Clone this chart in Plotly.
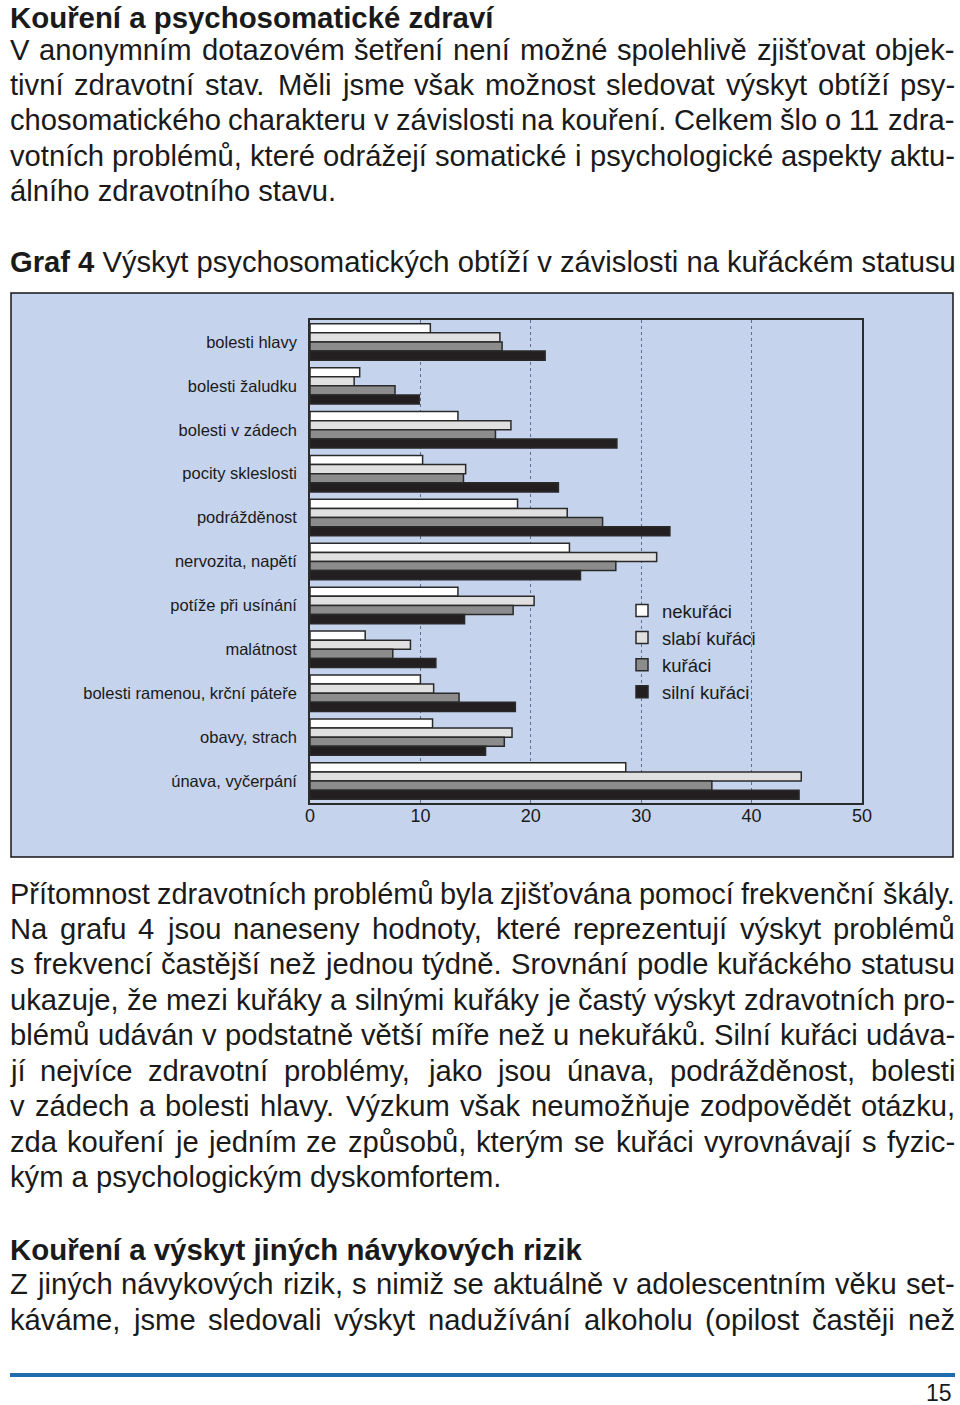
import plotly.graph_objects as go

# ---------------- data ----------------
categories = ["bolesti hlavy", "bolesti žaludku", "bolesti v zádech", "pocity skleslosti",
              "podrážděnost", "nervozita, napětí", "potíže při usínání", "malátnost",
              "bolesti ramenou, krční páteře", "obavy, strach", "únava, vyčerpání"]
nekuraci = [10.9, 4.5, 13.4, 10.2, 18.8, 23.5, 13.4, 5.0, 10.0, 11.1, 28.6]
slabi_kuraci = [17.2, 4.0, 18.2, 14.1, 23.3, 31.4, 20.3, 9.1, 11.2, 18.3, 44.5]
kuraci = [17.4, 7.7, 16.8, 13.9, 26.5, 27.7, 18.4, 7.5, 13.5, 17.6, 36.4]
silni_kuraci = [21.3, 9.9, 27.8, 22.5, 32.6, 24.5, 14.0, 11.4, 18.6, 15.9, 44.3]
series_names = ["nekuřáci", "slabí kuřáci", "kuřáci", "silní kuřáci"]
xticks = [0, 10, 20, 30, 40, 50]

W_PX, H_PX = 960, 1405
def px(x): return x / W_PX
def py(y): return 1 - y / H_PX

FONT = "Liberation Sans, Arial, Helvetica, sans-serif"
FS = 29.2
FS_HEAD = 29.4

# approximate Arial/Helvetica advance widths (1/1000 em)
AW = {' ': 278, ',': 278, '.': 278, '-': 333, '(': 333, ')': 333, ':': 278}
for d in "0123456789":
    AW[d] = 556
AW.update(dict(a=556, b=556, c=500, d=556, e=556, f=278, g=556, h=556, i=222, j=222, k=500,
               l=222, m=833, n=556, o=556, p=556, q=556, r=333, s=500, t=278, u=556, v=500,
               w=722, x=500, y=500, z=500,
               A=667, B=667, C=722, D=722, E=667, F=611, G=778, H=722, I=278, J=500, K=667,
               L=556, M=833, N=722, O=778, P=667, Q=778, R=722, S=667, T=611, U=722, V=667,
               W=944, X=667, Y=667, Z=611))
AW.update({'á': 556, 'é': 556, 'í': 278, 'ó': 556, 'ú': 556, 'ý': 500, 'č': 500, 'ď': 615,
           'ě': 556, 'ň': 556, 'ř': 333, 'š': 500, 'ť': 389, 'ů': 556, 'ž': 500,
           'Ř': 722, 'Š': 667, 'Č': 722, 'Ž': 611, 'Ý': 667, 'Ú': 722})

def em(s):
    return sum(AW.get(ch, 556) for ch in s) / 1000

fig = go.Figure()
fills = ["#ffffff", "#e0e0e0", "#8c8c8c", "#231f20"]
for name, vals, col in zip(series_names, [nekuraci, slabi_kuraci, kuraci, silni_kuraci], fills):
    fig.add_trace(go.Bar(y=categories, x=vals, name=name, orientation="h",
                         marker=dict(color=col, line=dict(color="#2a2a2a", width=1.5))))

annotations = []
LEFT, RIGHT = 10, 955

def add_text(text, y, x=LEFT, anchor="left", size=FS):
    annotations.append(dict(text=text, x=px(x), y=py(y), xref="paper", yref="paper",
                            xanchor=anchor, yanchor="middle", showarrow=False,
                            borderpad=0, borderwidth=0,
                            font=dict(family=FONT, size=size, color="#1a1a1a")))

def add_justified(line, y):
    words = line.split(" ")
    total_em = sum(em(w) for w in words)
    fs = min(FS, (RIGHT - LEFT) / (total_em + 0.24 * (len(words) - 1)))
    gap = (RIGHT - LEFT - total_em * fs) / (len(words) - 1)
    x = LEFT
    for w in words[:-1]:
        add_text(w, y, x=x, size=fs)
        x += em(w) * fs + gap
    add_text(words[-1], y, x=RIGHT, anchor="right", size=fs)

def add_paragraph(lines, y0, step):
    for i, ln in enumerate(lines):
        y = y0 + i * step
        if i == len(lines) - 1:
            add_text(ln, y)
        else:
            add_justified(ln, y)

add_text("<b>Kouření a psychosomatické zdraví</b>", 17, size=FS_HEAD)
add_paragraph(["V anonymním dotazovém šetření není možné spolehlivě zjišťovat objek-",
               "tivní zdravotní stav. Měli jsme však možnost sledovat výskyt obtíží psy-",
               "chosomatického charakteru v závislosti na kouření. Celkem šlo o 11 zdra-",
               "votních problémů, které odrážejí somatické i psychologické aspekty aktu-",
               "álního zdravotního stavu."], 50, 35.2)
add_text("<b>Graf 4</b> Výskyt psychosomatických obtíží v závislosti na kuřáckém statusu", 262)

add_paragraph(["Přítomnost zdravotních problémů byla zjišťována pomocí frekvenční škály.",
               "Na grafu 4 jsou naneseny hodnoty, které reprezentují výskyt problémů",
               "s frekvencí častější než jednou týdně. Srovnání podle kuřáckého statusu",
               "ukazuje, že mezi kuřáky a silnými kuřáky je častý výskyt zdravotních pro-",
               "blémů udáván v podstatně větší míře než u nekuřáků. Silní kuřáci udáva-",
               "jí nejvíce zdravotní problémy, jako jsou únava, podrážděnost, bolesti",
               "v zádech a bolesti hlavy. Výzkum však neumožňuje zodpovědět otázku,",
               "zda kouření je jedním ze způsobů, kterým se kuřáci vyrovnávají s fyzic-",
               "kým a psychologickým dyskomfortem."], 893.5, 35.45)

add_text("<b>Kouření a výskyt jiných návykových rizik</b>", 1249, size=FS_HEAD)
add_justified("Z jiných návykových rizik, s nimiž se aktuálně v adolescentním věku set-", 1284)
add_justified("káváme, jsme sledovali výskyt nadužívání alkoholu (opilost častěji než", 1320)
add_text("15", 1393, x=952, anchor="right", size=23)

shapes = [
    dict(type="rect", xref="paper", yref="paper", x0=px(11), x1=px(953), y0=py(857), y1=py(293),
         fillcolor="#c6d3ec", line=dict(color="#151515", width=1.5), layer="below"),
    dict(type="line", xref="paper", yref="paper", x0=px(10), x1=px(955), y0=py(1375), y1=py(1375),
         line=dict(color="#1f6cb0", width=4)),
]

fig.update_layout(
    width=W_PX, height=H_PX, margin=dict(l=0, r=0, t=0, b=0, pad=0, autoexpand=False),
    paper_bgcolor="white", plot_bgcolor="#c6d3ec",
    barmode="group", bargap=0.17, bargroupgap=0,
    font=dict(family=FONT, color="#1a1a1a"),
    xaxis=dict(domain=[px(310), px(862)], range=[0, 50], tickvals=xticks,
               showgrid=True, gridcolor="#5f6f90", griddash="dot", gridwidth=1,
               showline=True, mirror=True, linecolor="#2b2b2b", linewidth=1.5,
               ticks="", zeroline=False, tickfont=dict(size=18, color="#1a1a1a"),
               ticklabelstandoff=-4, fixedrange=True, automargin=False),
    yaxis=dict(domain=[py(803), py(320)], categoryorder="array", categoryarray=categories,
               autorange="reversed", showline=True, mirror=True, linecolor="#2b2b2b",
               linewidth=1.5, ticks="", showgrid=False, tickfont=dict(size=16.5, color="#1a1a1a"),
               ticklabelstandoff=8, fixedrange=True, automargin=False),
    legend=dict(x=px(622), y=py(592), xanchor="left", yanchor="top", bgcolor="rgba(0,0,0,0)",
                font=dict(size=18.5, color="#1a1a1a"), traceorder="normal"),
    annotations=annotations, shapes=shapes,
)

fig.write_html("out.html")
